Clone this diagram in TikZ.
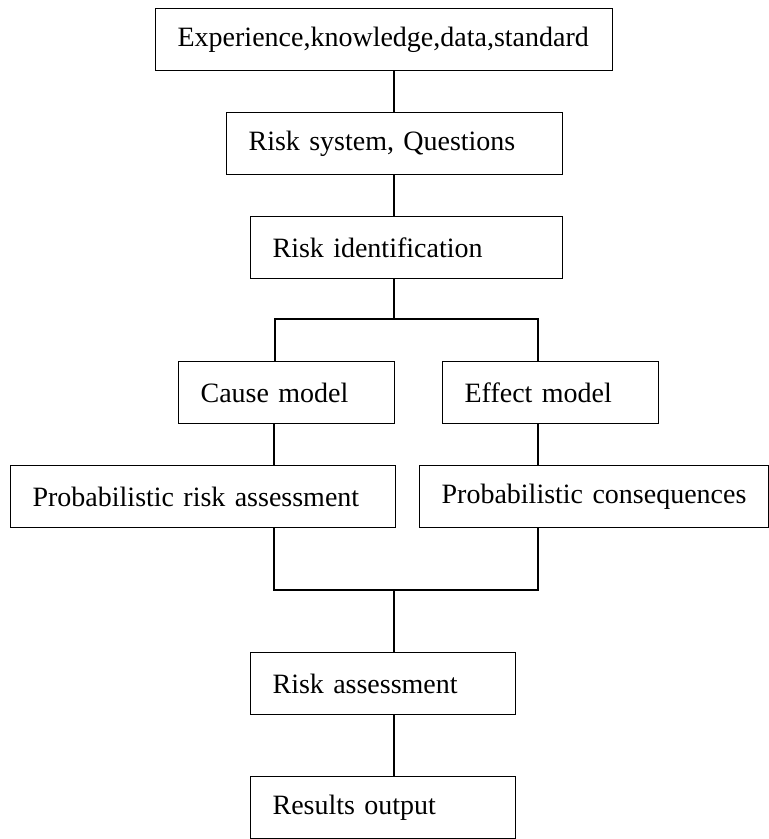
\documentclass[tikz,border=0pt]{standalone}
\usepackage{fontspec}
\setmainfont{Liberation Serif}
\tikzset{
  box/.style={draw, line width=0.6pt, anchor=north west, inner xsep=11pt,
    inner ysep=0pt, minimum height=31pt, text width=#1, align=left,
    font=\fontsize{14}{16}\selectfont},
  link/.style={line width=0.6pt}
}
\begin{document}
\begin{tikzpicture}[x=0.5pt,y=-0.5pt]
  \useasboundingbox (0,0) rectangle (768,839);
  % Upper chain
  \node[box=206.5pt] (exp) at (155,8) {Experience,knowledge,data,standard};
  \node[box=146pt] (sys) at (226,112) {Risk system, Questions};
  \node[box=134pt] (idf) at (250,216) {Risk identification};
  % Two models
  \node[box=86pt] (cause) at (178,361) {Cause model};
  \node[box=86pt] (eff) at (442,361) {Effect model};
  \node[box=170.5pt] (prob) at (10,465) {Probabilistic risk assessment};
  \node[box=152.5pt] (cons) at (419,465) {Probabilistic consequences};
  % Lower chain
  \node[box=110.5pt] (ra) at (250,652) {Risk assessment};
  \node[box=110.5pt] (out) at (250,776) {Results output};
  % Junction points
  \coordinate (split) at (394,319);
  \coordinate (jl) at (275,319);
  \coordinate (jr) at (538,319);
  \coordinate (merge) at (394,590);
  \coordinate (ml) at (274,590);
  \coordinate (mr) at (538,590);
  % Connectors
  \draw[link] (exp.south -| split) -- (sys.north -| split);
  \draw[link] (sys.south -| split) -- (idf.north -| split);
  \draw[link] (idf.south -| split) -- (split);
  \draw[link] (cause.north -| jl) -- (jl) -- (jr) -- (eff.north -| jr);
  \draw[link] (cause.south -| ml) -- (prob.north -| ml);
  \draw[link] (eff.south -| mr) -- (cons.north -| mr);
  \draw[link] (prob.south -| ml) -- (ml) -- (mr) -- (cons.south -| mr);
  \draw[link] (merge) -- (ra.north -| merge);
  \draw[link] (ra.south -| merge) -- (out.north -| merge);
\end{tikzpicture}
\end{document}
